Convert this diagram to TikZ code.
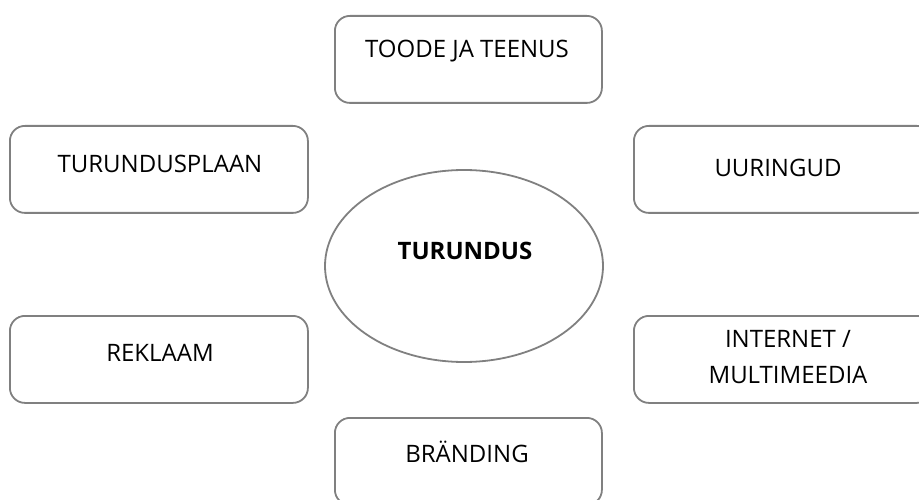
\documentclass[tikz,border=0pt]{standalone}
\usepackage{fontspec}
\setmainfont{Open Sans}
\usetikzlibrary{shapes.geometric}
\definecolor{boxgray}{RGB}{128,128,128}
\begin{document}
\begin{tikzpicture}[x=1pt,y=-1pt,
  topicbox/.style={draw=boxgray, line width=1.8pt, rounded corners=15pt, fill=white,
    minimum width=298pt, minimum height=87pt, inner sep=0pt, anchor=north west},
  midbox/.style={topicbox, minimum width=267pt},
  lbl/.style={font=\fontsize{24}{28}\selectfont, text=black, inner sep=0pt, anchor=base},
  hub/.style={draw=boxgray, line width=1.8pt, ellipse, fill=white,
    minimum width=278pt, minimum height=192pt, inner sep=0pt}]
\useasboundingbox (0,0) rectangle (919,500);
\clip (0,0) rectangle (919,500);
\node[midbox] (toode) at (334,15) {};
\node[topicbox] (plaan) at (9,125) {};
\node[topicbox] (uuring) at (633,125) {};
\node[topicbox] (reklaam) at (9,315) {};
\node[topicbox] (internet) at (633,315) {};
\node[midbox] (brand) at (334,417) {};
\node[hub] (hub) at (464,266) {};
\node[lbl] (ttoode) at (467,58) {TOODE JA TEENUS};
\node[lbl] (tplaan) at (160,173) {TURUNDUSPLAAN};
\node[lbl] (tuuring) at (778,177) {UURINGUD};
\node[lbl] (treklaam) at (160,361) {REKLAAM};
\node[lbl] (tinternet1) at (788,347) {INTERNET /};
\node[lbl] (tinternet2) at (788,383) {MULTIMEEDIA};
\node[lbl] (tbrand) at (467,462) {BRÄNDING};
\node[lbl, font=\fontsize{24}{28}\selectfont\bfseries] (thub) at (465,259) {TURUNDUS};
\end{tikzpicture}
\end{document}
